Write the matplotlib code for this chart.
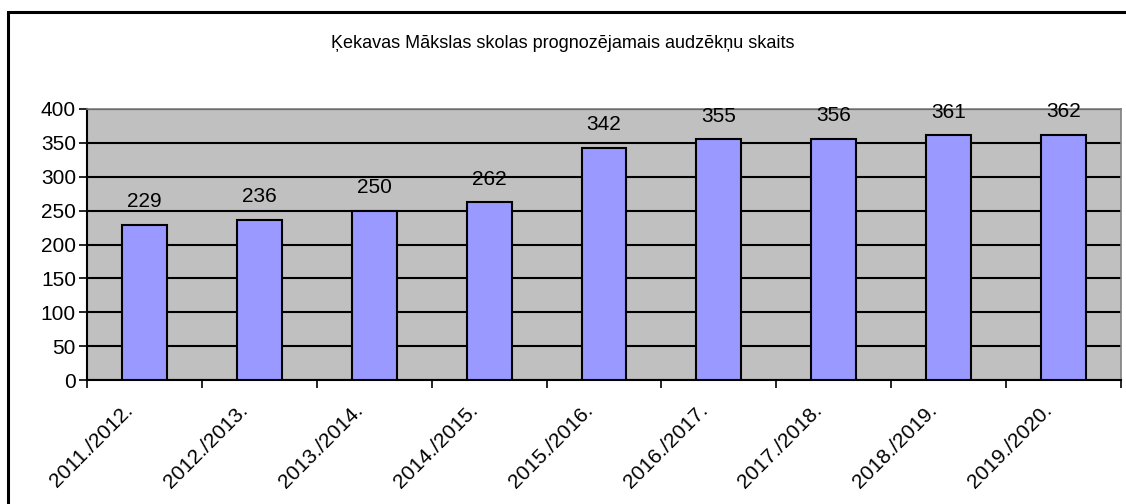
import matplotlib.pyplot as plt
from matplotlib.patches import Rectangle
from matplotlib.ticker import FixedLocator
from matplotlib.transforms import ScaledTranslation
import numpy as np

plt.rcParams['font.family'] = ['Liberation Sans', 'DejaVu Sans']

# dati
years = ['2011./2012.', '2012./2013.', '2013./2014.', '2014./2015.', '2015./2016.',
         '2016./2017.', '2017./2018.', '2018./2019.', '2019./2020.']
students = [229, 236, 250, 262, 342, 355, 356, 361, 362]

W, H = 1126, 504
fig = plt.figure(figsize=(W / 100, H / 100), dpi=100)

# outer frame of the chart object
fig.patches.append(Rectangle((8 / W, -0.1), 1.2, 1 - 12 / H + 0.1, transform=fig.transFigure,
                             fill=False, edgecolor='black', linewidth=2.2))

ax = fig.add_axes([87 / W, 1 - 380 / H, (1121 - 87) / W, (380 - 109) / H])
ax.set_facecolor('#C0C0C0')

x = np.arange(len(years))
bars = ax.bar(x, students, width=0.39, color='#9999FF', edgecolor='black', linewidth=1.5, zorder=3)

for xi, v in zip(x, students):
    ax.annotate(str(v), (xi, v), xytext=(0, 10), textcoords='offset points',
                ha='center', va='bottom', fontsize=15)

ax.set_xlim(-0.5, len(years) - 0.5)
ax.set_ylim(0, 400)
ax.set_yticks(range(0, 401, 50))
ax.tick_params(axis='y', labelsize=15, length=6, width=1.2, direction='out', pad=2)
ax.yaxis.grid(True, color='black', linewidth=1.5, zorder=1)
ax.set_axisbelow(True)

ax.set_xticks(x)
ax.set_xticklabels(years, rotation=45, ha='right', rotation_mode='anchor', fontsize=15)
ax.tick_params(axis='x', length=0, pad=15)
shift = ScaledTranslation(-21 / 100, 0, fig.dpi_scale_trans)
for lbl in ax.get_xticklabels():
    lbl.set_transform(lbl.get_transform() + shift)
ax.xaxis.set_minor_locator(FixedLocator(np.arange(-0.5, len(years), 1.0)))
ax.tick_params(axis='x', which='minor', length=6, width=1.2, direction='out')

for s in ['top', 'right']:
    ax.spines[s].set_color('#808080')
    ax.spines[s].set_linewidth(1.2)
for s in ['left', 'bottom']:
    ax.spines[s].set_color('black')
    ax.spines[s].set_linewidth(1.5)

fig.text(0.5, 1 - 43 / H, 'Ķekavas Mākslas skolas prognozējamais audzēkņu skaits',
         ha='center', va='center', fontsize=13)

fig.savefig('out.png', dpi=100)
